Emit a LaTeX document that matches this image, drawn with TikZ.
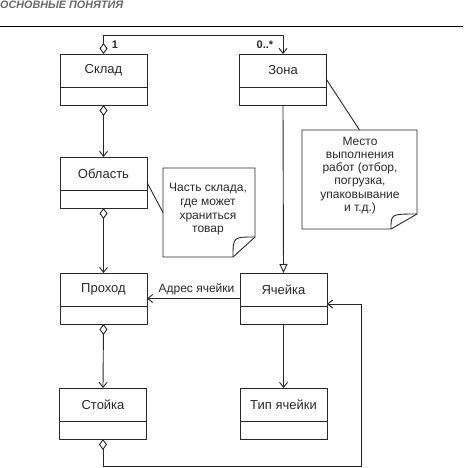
\documentclass[tikz,border=0pt]{standalone}
\usepackage{fontspec}
\setmainfont{Liberation Sans}
\usetikzlibrary{arrows.meta,calc}
\definecolor{ink}{RGB}{40,40,40}
\definecolor{hdrgray}{RGB}{105,105,105}
\tikzset{
  agg/.tip={Diamond[open,length=11pt,width=8pt]},
  opn/.tip={Straight Barb[length=5pt,width=8pt]},
  gen/.tip={Triangle[open,length=9pt,width=8pt]},
  cls/.style={draw=ink,line width=0.95pt,minimum width=87pt,minimum height=51pt,inner sep=0pt,outer sep=0pt},
  clstext/.style={font=\fontsize{13}{15}\selectfont,text=ink,inner sep=0pt},
  conn/.style={draw=ink,line width=0.9pt},
  notearea/.style={draw=none,inner sep=0pt,outer sep=0pt},
  noteline/.style={draw=ink,line width=0.9pt,line join=miter},
  notetext/.style={font=\fontsize{12}{13.2}\selectfont,text=ink,align=center,inner sep=0pt},
  mult/.style={font=\fontsize{11}{12}\selectfont\bfseries,text=ink,inner sep=0pt},
  lbl/.style={font=\fontsize{12}{13}\selectfont,text=ink,inner sep=0pt}
}
\newcommand\umlclass[4]{%
  \node[cls,anchor=north] (#1) at (#2,#3) {};
  \draw[ink,line width=0.95pt] ([yshift=-33pt]#1.north west) -- ([yshift=-33pt]#1.north east);
  \node[clstext] (#1-t) at ([yshift=-16.5pt]#1.north) {#4};
}
\begin{document}
\begin{tikzpicture}[x=1pt,y=-1pt]
\useasboundingbox (0,0) rectangle (463,468);
% header
\node[anchor=west,font=\fontsize{10.8}{12}\selectfont\bfseries\itshape,text=hdrgray,inner sep=0pt] (hdr) at (0,4.5) {ОСНОВНЫЕ ПОНЯТИЯ};
\draw[black,line width=1.2pt] (0,26.7) -- (463,26.7);
% classes
\umlclass{sklad}{103.5}{54}{Склад}
\umlclass{zona}{283}{54}{Зона}
\umlclass{oblast}{103.5}{157}{Область}
\umlclass{prohod}{103.5}{273}{Проход}
\umlclass{yach}{283.5}{273}{Ячейка}
\umlclass{stoyka}{103}{388}{Стойка}
\umlclass{tip}{283.5}{388}{Тип ячейки}
% notes
\node[notearea,minimum width=115pt,minimum height=99pt] (note1) at (359.5,179.5) {};
\draw[noteline] (note1.north west) -- (note1.north east) -- ([yshift=15pt]note1.south east)
  -- ([xshift=-26pt]note1.south east) -- (note1.south west) -- cycle;
\draw[noteline] ([yshift=15pt]note1.south east) .. controls ([xshift=-26pt,yshift=15pt]note1.south east) .. ([xshift=-26pt]note1.south east);
\node[notetext] (note1-t) at (360,175.5) {Место\\выполнения\\работ (отбор,\\погрузка,\\упаковывание\\и т.д.)};
\node[notearea,minimum width=92pt,minimum height=89pt] (note2) at (209,212.5) {};
\draw[noteline] (note2.north west) -- (note2.north east) -- ([yshift=20pt]note2.south east)
  -- ([xshift=-22pt]note2.south east) -- (note2.south west) -- cycle;
\draw[noteline] ([yshift=20pt]note2.south east) .. controls ([xshift=-22pt,yshift=20pt]note2.south east) .. ([xshift=-22pt]note2.south east);
\node[notetext,font=\fontsize{12}{13.7}\selectfont] (note2-t) at (208,209.5) {Часть склада,\\где может\\храниться\\товар};
% note anchors
\draw[conn] (zona.east) -- (note1.north);
\draw[conn] (oblast.east) -- (note2.west);
% connectors
\draw[conn,agg-opn] (sklad.north) -- ++(0,-19) -| (zona.north);
\node[mult] (m1) at (115,44.5) {1};
\node[mult] (m2) at (265,44.5) {0..*};
\draw[conn,agg-opn] (sklad.south) -- (oblast.north);
\draw[conn,agg-opn] (oblast.south) -- (prohod.north);
\draw[conn,agg-opn] (prohod.south) -- (stoyka.north);
\draw[conn,-gen] (zona.south) -- (yach.north);
\draw[conn,-opn] (yach.south) -- (tip.north);
\draw[conn,-opn] (yach.west) -- node[lbl,above=3.5pt,xshift=3pt] {Адрес ячейки} (prohod.east);
\coordinate (loopBR) at (361,466.5);
\draw[conn,agg-opn] (stoyka.south) |- (loopBR) |- ($(yach.east)+(0,5.5)$);
\end{tikzpicture}
\end{document}
